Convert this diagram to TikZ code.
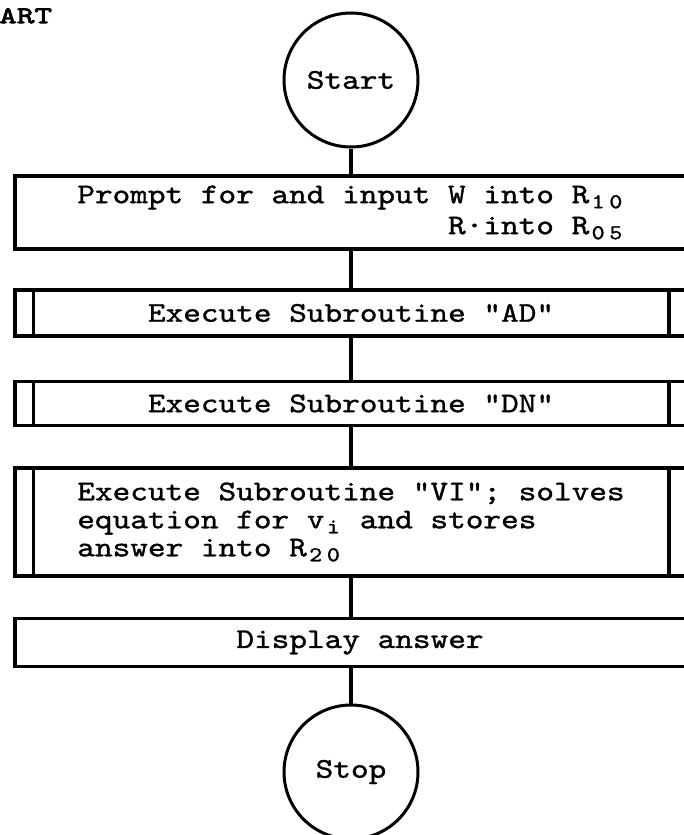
\documentclass[tikz,border=0pt]{standalone}
\usepackage{fontspec}
\setmonofont{lmmono10-regular.otf}[FakeStretch=1.18, FakeBold=1.2]
\newfontfamily\headtt{lmmono10-regular.otf}[FakeStretch=1.4, FakeBold=3]
\usetikzlibrary{calc}

\newcommand{\boxfont}{\fontsize{28.5}{28}\selectfont\ttfamily}
\newcommand{\headfont}{\fontsize{24}{24}\selectfont\headtt}
\newcommand{\dn}[1]{\raisebox{-5pt}{\makebox[17.7pt]{\fontsize{21}{21}\selectfont #1}}}

\begin{document}
\begin{tikzpicture}[x=1pt, y=-1pt,
  every node/.style={inner sep=0pt},
  term/.style={draw, circle, line width=3pt, minimum size=134pt, font=\boxfont},
  stepbox/.style={draw, rectangle, line width=3.5pt, minimum width=672pt, font=\boxfont},
  flow/.style={line width=3.5pt}]
\useasboundingbox (0,0) rectangle (683,835);

\node[anchor=north west, font=\headfont] (title) at (-1,8) {ART};

\node[term] (start) at (351,80) {Start};
\node[stepbox, minimum height=73pt, align=right] (prompt) at (351,212.5)
  {Prompt for and input W into R\dn{1}\dn{0}\\[3pt] R·into R\dn{0}\dn{5}};
\node[stepbox, minimum height=46pt] (ad) at (351,313) {Execute Subroutine "AD"};
\node[stepbox, minimum height=44pt] (dn) at (351,403.5) {Execute Subroutine "DN"};
\node[stepbox, minimum height=108pt, align=left] (vi) at (351,522)
  {Execute Subroutine "VI"; solves\\ equation for v\dn{i} and stores\\ answer into R\dn{2}\dn{0}};
\node[stepbox, minimum height=48pt] (show) at (351,642.5) {\hspace*{18pt}Display answer};
\node[term] (stop) at (351,772) {Stop};

\foreach \n in {ad,dn,vi} {
  \draw[flow] ([xshift=20pt]\n.north west) -- ([xshift=20pt]\n.south west);
  \draw[flow] ([xshift=-20pt]\n.north east) -- ([xshift=-20pt]\n.south east);
}

\draw[flow] (start) -- (prompt);
\draw[flow] (prompt) -- (ad);
\draw[flow] (ad) -- (dn);
\draw[flow] (dn) -- (vi);
\draw[flow] (vi) -- (show);
\draw[flow] (show) -- (stop);

\end{tikzpicture}
\end{document}
